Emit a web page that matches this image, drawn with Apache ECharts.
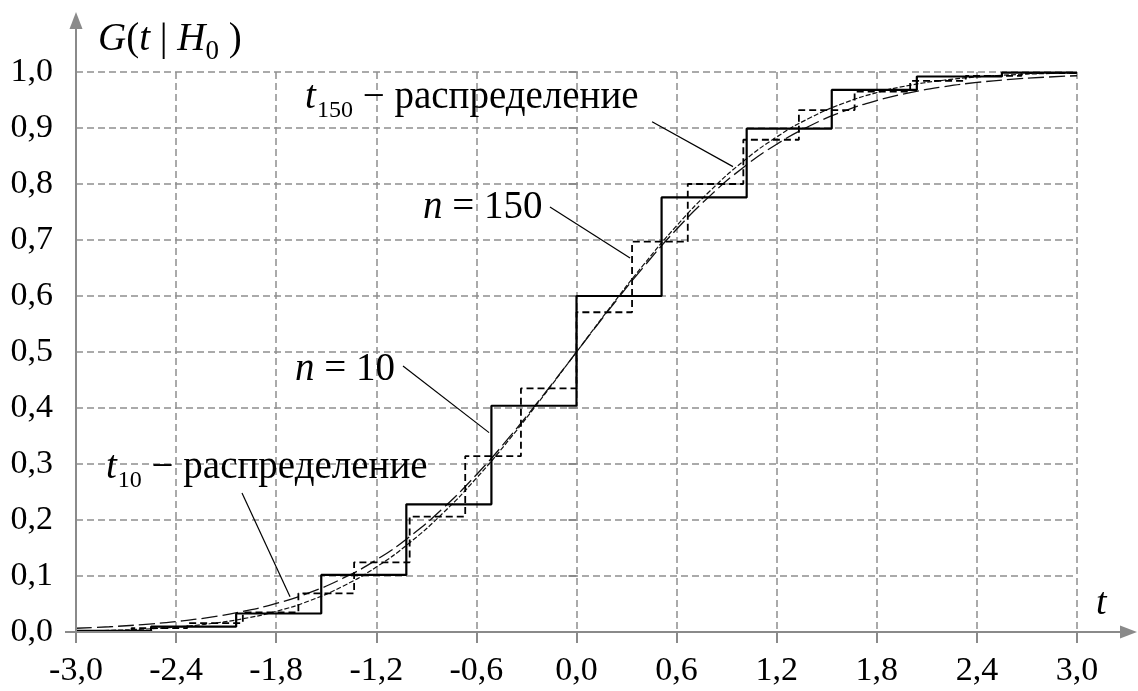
<!DOCTYPE html>
<html>
<head>
<meta charset="utf-8">
<script src="https://cdn.jsdelivr.net/npm/echarts@6/dist/echarts.min.js"></script>
<style>
  html, body { margin: 0; padding: 0; background: #fff; }
  #chart { width: 1138px; height: 691px; }
</style>
</head>
<body>
<div id="chart"></div>
<script>
// Axis ranges
const X_MIN = -3.0, X_MAX = 3.0, X_STEP = 0.6;
const Y_MIN = 0.0, Y_MAX = 1.0, Y_STEP = 0.1;

// Empirical distribution of the statistic, n = 10: jump points and levels between them
const n10Jumps  = [-2.55, -2.04, -1.53, -1.02, -0.51, 0.0, 0.51, 1.02, 1.53, 2.04, 2.55];
const n10Levels = [0.002, 0.0095, 0.033, 0.102, 0.228, 0.404, 0.600, 0.776, 0.899, 0.968, 0.992, 0.999];

// Empirical distribution, n = 150
const n150Jumps  = [-2.667, -2.333, -2.0, -1.667, -1.333, -1.0, -0.667, -0.333, 0.0,
                    0.333, 0.667, 1.0, 1.333, 1.667, 2.0, 2.333, 2.667];
const n150Levels = [0.002, 0.007, 0.016, 0.035, 0.069, 0.1245, 0.206, 0.314, 0.435,
                    0.571, 0.697, 0.800, 0.879, 0.932, 0.965, 0.984, 0.993, 0.998];

// Student t distribution functions, 10 and 150 degrees of freedom
const tGrid   = [-3.0, -2.8, -2.6, -2.4, -2.2, -2.0, -1.8, -1.6, -1.4, -1.2, -1.0, -0.8, -0.6, -0.4, -0.2, 0.0,
                 0.2, 0.4, 0.6, 0.8, 1.0, 1.2, 1.4, 1.6, 1.8, 2.0, 2.2, 2.4, 2.6, 2.8, 3.0];
const t10Cdf  = [0.0067, 0.0094, 0.0133, 0.0187, 0.0262, 0.0367, 0.0510, 0.0703, 0.0960, 0.1289, 0.1704,
                 0.2212, 0.2809, 0.3488, 0.4227, 0.5, 0.5773, 0.6512, 0.7191, 0.7788, 0.8296, 0.8711,
                 0.9040, 0.9297, 0.9490, 0.9633, 0.9738, 0.9813, 0.9867, 0.9906, 0.9933];
const t150Cdf = [0.0016, 0.0029, 0.0051, 0.0088, 0.0147, 0.0236, 0.0369, 0.0559, 0.0818, 0.1160, 0.1595,
                 0.2125, 0.2747, 0.3449, 0.4209, 0.5, 0.5791, 0.6551, 0.7253, 0.7875, 0.8405, 0.8840,
                 0.9182, 0.9441, 0.9631, 0.9764, 0.9853, 0.9912, 0.9949, 0.9971, 0.9984];

// Leader lines from the captions to the curves (data coordinates)
const leaders = [
  [[0.453, 0.911], [0.938, 0.831]],
  [[-0.159, 0.759], [0.321, 0.668]],
  [[-1.040, 0.475], [-0.524, 0.356]],
  [[-2.005, 0.248], [-1.717, 0.063]]
];

const SERIF = '"Liberation Serif", "Times New Roman", serif';
const GRID_GRAY = '#8e8e8e';
const AXIS_GRAY = '#8a8a8a';

function stepData(jumps, levels) {
  const pts = [[X_MIN, levels[0]]];
  jumps.forEach((x, i) => pts.push([x, levels[i + 1]]));
  pts.push([X_MAX, levels[levels.length - 1]]);
  return pts;
}
function zip(xs, ys) { return xs.map((x, i) => [x, ys[i]]); }
function fmt(v) {
  if (Math.abs(v) < 1e-9) v = 0;
  return v.toFixed(1).replace('.', ',');
}

const chart = echarts.init(document.getElementById('chart'), null, { renderer: 'canvas' });

const series = [
  {
    name: 't10', type: 'line', data: zip(tGrid, t10Cdf), smooth: true, showSymbol: false,
    lineStyle: { color: '#111', width: 1.3, type: [16, 5] }, z: 3
  },
  {
    name: 't150', type: 'line', data: zip(tGrid, t150Cdf), smooth: true, showSymbol: false,
    lineStyle: { color: '#111', width: 1.2, type: [5, 2] }, z: 3
  },
  {
    name: 'n150', type: 'line', data: stepData(n150Jumps, n150Levels), step: 'end', showSymbol: false,
    lineStyle: { color: '#000', width: 1.8, type: [7, 4] }, z: 4
  },
  {
    name: 'n10', type: 'line', data: stepData(n10Jumps, n10Levels), step: 'end', showSymbol: false,
    lineStyle: { color: '#000', width: 2.2, type: 'solid' }, z: 5
  }
];
leaders.forEach((seg, i) => series.push({
  name: 'leader' + i, type: 'line', data: seg, showSymbol: false, clip: false,
  lineStyle: { color: '#000', width: 1.2 }, z: 6
}));

chart.setOption({
  animation: false,
  backgroundColor: '#fff',
  grid: { left: 76, right: 61, top: 72, bottom: 59 },
  xAxis: {
    type: 'value', min: X_MIN, max: X_MAX, interval: X_STEP,
    axisLine: { show: false },
    axisTick: { show: true, length: 11, lineStyle: { color: AXIS_GRAY, width: 2 } },
    axisLabel: { formatter: fmt, margin: 22, color: '#000', fontSize: 34, fontFamily: SERIF },
    splitLine: { show: true, lineStyle: { color: GRID_GRAY, width: 1.5, type: [7, 4] } }
  },
  yAxis: {
    type: 'value', min: Y_MIN, max: Y_MAX, interval: Y_STEP,
    axisLine: { show: false },
    axisTick: { show: true, length: 8, lineStyle: { color: AXIS_GRAY, width: 2 } },
    axisLabel: { formatter: fmt, margin: 23, color: '#000', fontSize: 34, fontFamily: SERIF },
    splitLine: { show: true, lineStyle: { color: GRID_GRAY, width: 1.5, type: [7, 4] } }
  },
  series: series
});

// Captions and axis decorations
const measureCtx = document.createElement('canvas').getContext('2d');
function fontOf(p) { return (p.italic ? 'italic ' : '') + p.size + 'px ' + SERIF; }
function textRun(anchor, pieces) {
  const [x0, base] = chart.convertToPixel({ gridIndex: 0 }, anchor);
  let x = x0;
  const els = [];
  pieces.forEach(p => {
    x += p.gap || 0;
    const font = fontOf(p);
    measureCtx.font = font;
    const w = measureCtx.measureText(p.text).width;
    els.push({
      type: 'text', x: x, y: base + (p.dy || 0) - 0.3375 * p.size, z: 10,
      style: { text: p.text, font: font, fill: '#000', align: 'left', verticalAlign: 'middle' }
    });
    x += w;
  });
  return els;
}

const CAP = 39;
const graphics = [];
graphics.push(...textRun([-1.627, 0.930], [
  { text: 't', size: CAP, italic: true },
  { text: '150', size: 24, dy: 8, gap: 1 },
  { text: ' \u2212 распределение', size: CAP }
]));
graphics.push(...textRun([-0.920, 0.734], [
  { text: 'n', size: CAP, italic: true },
  { text: ' = 150', size: CAP }
]));
graphics.push(...textRun([-1.687, 0.4446], [
  { text: 'n', size: CAP, italic: true },
  { text: ' = 10', size: CAP }
]));
graphics.push(...textRun([-2.820, 0.2696], [
  { text: 't', size: CAP, italic: true },
  { text: '10', size: 24, dy: 8, gap: 1 },
  { text: ' \u2212 распределение', size: CAP }
]));
// Axis names
graphics.push(...textRun([-2.868, 1.034], [
  { text: 'G', size: 39, italic: true },
  { text: '(', size: 39 },
  { text: 't', size: 39, italic: true },
  { text: ' | ', size: 39 },
  { text: 'H', size: 39, italic: true },
  { text: '0', size: 27, dy: 8 },
  { text: ' )', size: 39 }
]));
graphics.push(...textRun([3.114, 0.027], [
  { text: 't', size: 38, italic: true }
]));

// Axis lines with arrowheads
const o = chart.convertToPixel({ gridIndex: 0 }, [X_MIN, Y_MIN]);
const xe = chart.convertToPixel({ gridIndex: 0 }, [X_MAX, Y_MIN]);
const ye = chart.convertToPixel({ gridIndex: 0 }, [X_MIN, Y_MAX]);
const xTip = xe[0] + 60, yTip = ye[1] - 60;
graphics.push(
  { type: 'line', z: 8, shape: { x1: o[0] - 11, y1: o[1], x2: xTip - 10, y2: o[1] },
    style: { stroke: AXIS_GRAY, lineWidth: 2 } },
  { type: 'polygon', z: 8, shape: { points: [[xTip, o[1]], [xTip - 17, o[1] - 6.5], [xTip - 17, o[1] + 6.5]] },
    style: { fill: AXIS_GRAY } },
  { type: 'line', z: 8, shape: { x1: o[0], y1: o[1] + 11, x2: o[0], y2: yTip + 10 },
    style: { stroke: AXIS_GRAY, lineWidth: 2 } },
  { type: 'polygon', z: 8, shape: { points: [[o[0], yTip], [o[0] - 6.5, yTip + 17], [o[0] + 6.5, yTip + 17]] },
    style: { fill: AXIS_GRAY } }
);

chart.setOption({ graphic: graphics });
</script>
</body>
</html>
